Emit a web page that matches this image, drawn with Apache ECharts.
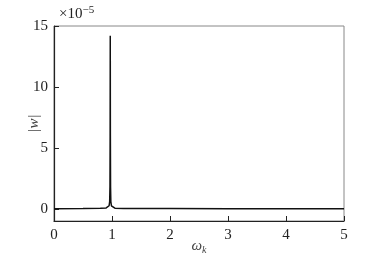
<!DOCTYPE html>
<html><head><meta charset="utf-8">
<script src="https://cdn.jsdelivr.net/npm/echarts@6/dist/echarts.min.js"></script>
<style>html,body{margin:0;padding:0;background:#fff}#c{width:379px;height:263px}</style>
</head><body><div id="c"></div>
<script>
// frequency omega_k
const omegaK = [0, 0.5, 0.8, 0.9, 0.93, 0.95, 0.96, 0.965, 0.968, 0.97, 0.972, 0.975, 0.98, 0.99, 1.01, 1.05, 1.2, 2, 3, 4, 5];
// |w| in units of 1e-5
const absW = [0.01, 0.02, 0.04, 0.07, 0.12, 0.25, 0.6, 1.8, 6.0, 14.2, 6.0, 1.8, 0.6, 0.25, 0.1, 0.05, 0.03, 0.02, 0.01, 0.01, 0.01];
const xTicks = [0, 1, 2, 3, 4, 5];
const yTicks = [0, 5, 10, 15];

const serif = '"Liberation Serif", "DejaVu Serif", serif';
const chart = echarts.init(document.getElementById('c'));
chart.setOption({
  animation: false,
  backgroundColor: '#fff',
  grid: { left: 54, right: 35, top: 26, bottom: 42, show: true, borderColor: '#888', borderWidth: 1, containLabel: false, outerBoundsMode: 'none' },
  title: {
    text: '×10{sup|−5}', left: 54, top: 0,
    textStyle: { fontFamily: serif, fontSize: 15, fontWeight: 'normal', color: '#222',
      rich: { sup: { fontFamily: serif, fontSize: 11, verticalAlign: 'top', padding: [0,0,8,0], color: '#222' } } }
  },
  xAxis: {
    type: 'value', min: 0, max: 5, interval: 1,
    axisLine: { show: true, onZero: false, lineStyle: { color: '#222', width: 1.2 } },
    axisTick: { show: true, inside: true, length: 5, lineStyle: { color: '#222', width: 1 } },
    axisLabel: { fontFamily: serif, fontSize: 15, color: '#222', margin: 7, customValues: xTicks },
    splitLine: { show: false },
    name: 'ω{sub|k}', nameLocation: 'middle', nameGap: 16, nameMoveOverlap: false,
    nameTextStyle: { fontFamily: serif, fontSize: 15, fontStyle: 'italic', color: '#444',
      rich: { sub: { fontFamily: serif, fontSize: 10, fontStyle: 'italic', verticalAlign: 'bottom', padding: [8,0,0,0], color: '#444' } } }
  },
  yAxis: {
    type: 'value', min: -1, max: 15,
    axisLine: { show: true, onZero: false, lineStyle: { color: '#222', width: 1.2 } },
    axisTick: { show: true, inside: true, length: 5, customValues: yTicks, lineStyle: { color: '#222', width: 1 } },
    axisLabel: { fontFamily: serif, fontSize: 15, color: '#222', margin: 6, customValues: yTicks },
    splitLine: { show: false },
    name: '|w|', nameLocation: 'middle', nameGap: 12, nameRotate: 90, nameMoveOverlap: false,
    nameTextStyle: { fontFamily: serif, fontSize: 15, fontStyle: 'italic', color: '#444' }
  },
  series: [{
    type: 'line', data: omegaK.map((x, i) => [x, absW[i]]),
    showSymbol: false, smooth: false,
    lineStyle: { color: '#111', width: 1.5 }
  }]
});
</script></body></html>
